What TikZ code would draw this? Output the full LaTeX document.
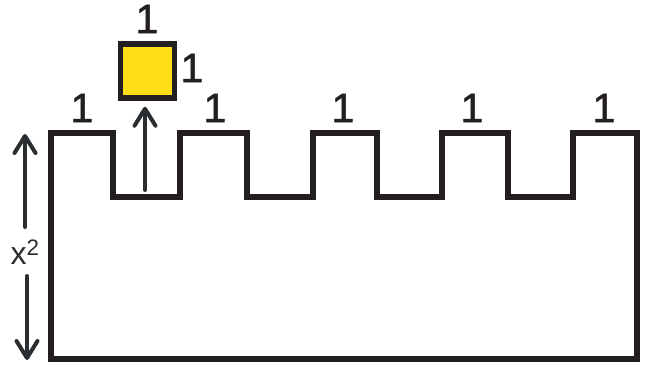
\documentclass[tikz,border=0pt]{standalone}
\usepackage{fontspec}
\setmainfont{Liberation Sans}
\newfontfamily\numfont{Liberation Sans}[FakeBold=1.2]
\usetikzlibrary{arrows.meta}
\definecolor{ink}{HTML}{231F20}
\definecolor{arr}{HTML}{2A2E30}
\definecolor{gold}{HTML}{FFDD17}
\begin{document}
\begin{tikzpicture}[x=1pt,y=-1pt,
  outline/.style={draw=ink,line width=5.5pt,line join=miter},
  one/.style={font=\numfont\fontsize{41}{41}\selectfont,text=ink,inner sep=0pt},
  arrw/.style={draw=arr,line width=4pt,line cap=round,-{Straight Barb[length=17pt,width=21pt,line width=4pt,line cap=round,line join=round]}}]
\useasboundingbox (0,0) rectangle (661,364);
% comb shape
\draw[outline] (51,133) -- (113,133) -- (113,197) -- (180,197) -- (180,133)
  -- (247,133) -- (247,197) -- (313,197) -- (313,133)
  -- (377,133) -- (377,197) -- (442,197) -- (442,133)
  -- (508,133) -- (508,197) -- (573,197) -- (573,133)
  -- (637,133) -- (637,359) -- (51,359) -- cycle;
% square
\node[draw=ink,line width=5.5pt,fill=gold,minimum size=54pt,inner sep=0pt] (sq) at (147.5,71) {};
\node[one] (ltop) at (147,19) {1};
\node[one] (lright) at (192,68) {1};
\node[one] (l1) at (82,108) {1};
\node[one] (l2) at (215,108) {1};
\node[one] (l3) at (343,108) {1};
\node[one] (l4) at (472,108) {1};
\node[one] (l5) at (604,108) {1};
% arrow into square
\coordinate (a0) at (145,190);
\draw[arrw] (a0) -- ([yshift=-6pt]sq.south -| a0);
% x^2 double arrow
\node[font=\fontsize{32}{32}\selectfont,text=arr,inner sep=0pt] (xl) at (25,252) {x\textsuperscript{2}};
\coordinate (u0) at (25,227);
\coordinate (u1) at (25,134);
\coordinate (d0) at (27,276);
\coordinate (d1) at (27,360);
\draw[arrw] (u0) -- (u1);
\draw[arrw] (d0) -- (d1);
\end{tikzpicture}
\end{document}
